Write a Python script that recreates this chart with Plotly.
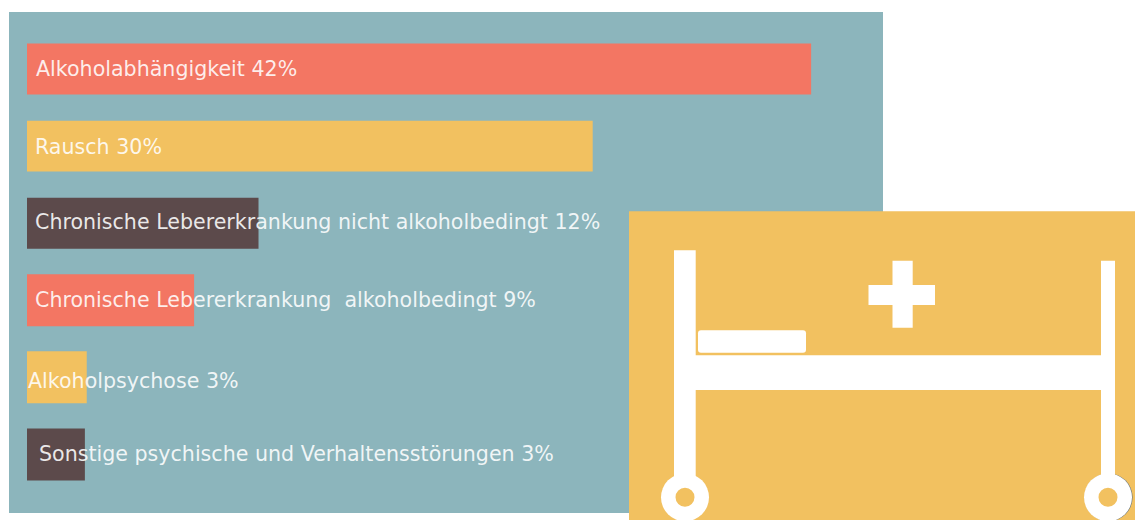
import plotly.graph_objects as go

categories = ["Alkoholabhängigkeit", "Rausch", "Chronische Lebererkrankung nicht alkoholbedingt",
              "Chronische Lebererkrankung  alkoholbedingt", "Alkoholpsychose",
              "Sonstige psychische und Verhaltensstörungen"]
bar_values = [42.0, 30.3, 12.4, 8.95, 3.2, 3.1]
value_labels = ["42%", "30%", "12%", "9%", "3%", "3%"]

bar_colors = ["#F37663", "#F2C160", "#5C4A4B", "#F37663", "#F2C160", "#5C4A4B"]
bar_thickness = [0.66, 0.66, 0.66, 0.675, 0.675, 0.675]
label_xshift = [7, 6, 6, 6, -1, 10]
label_yshift = [0, -1, 1, 0, -4, 0]

W, H = 1135, 520
PANEL = (9, 11.5, 883, 513)
PX_PER_UNIT = 18.67
BAR_X0 = 27
TEAL, ORANGE = "#8CB5BC", "#F2C160"


def px(x):
    return (x - PANEL[0]) / (PANEL[2] - PANEL[0])


def py(y):
    return 1 - (y - PANEL[1]) / (PANEL[3] - PANEL[1])


def rect(x0, y0, x1, y1, color="white"):
    return dict(type="rect", xref="paper", yref="paper", x0=px(x0), x1=px(x1), y0=py(y0), y1=py(y1),
                fillcolor=color, line_width=0, layer="above")


def circle(cx, cy, r, color):
    return dict(type="circle", xref="paper", yref="paper", x0=px(cx - r), x1=px(cx + r), y0=py(cy - r), y1=py(cy + r),
                fillcolor=color, line_width=0, layer="above")


def rounded(x0, y0, x1, y1, r, color="white"):
    a, b, c, d = px(x0), px(x1), py(y0), py(y1)
    rx, ry = px(x0 + r) - a, c - py(y0 + r)
    path = (f"M{a + rx},{c} L{b - rx},{c} Q{b},{c} {b},{c - ry} L{b},{d + ry} Q{b},{d} {b - rx},{d} "
            f"L{a + rx},{d} Q{a},{d} {a},{d + ry} L{a},{c - ry} Q{a},{c} {a + rx},{c} Z")
    return dict(type="path", xref="paper", yref="paper", path=path, fillcolor=color, line_width=0, layer="above")


shapes = [
    rect(629, 211, 1135, 520, ORANGE),
    circle(685, 497.3, 24, "white"),
    circle(685, 497.3, 9.5, ORANGE),
    circle(1108.6, 497.3, 24, "#5E6E78"),
    circle(1108, 497.3, 24, "white"),
    circle(1108, 497.3, 9.5, ORANGE),
    rect(674, 250, 695.7, 482),
    rect(1101, 260.5, 1115, 482),
    rect(695, 355, 1102, 390),
    rect(892.5, 260.5, 912.7, 327.5),
    rect(868.5, 284.7, 935, 304.7),
    rounded(698, 330, 806, 352.7, 3),
]

fig = go.Figure(go.Bar(y=categories, x=bar_values, orientation="h", width=bar_thickness,
                       marker=dict(color=bar_colors, line_width=0), hoverinfo="skip"))

annotations = [
    dict(x=0, y=c, xref="x", yref="y", xanchor="left", yanchor="middle", showarrow=False,
         xshift=xs, yshift=ys, text=f"{c} {v}", align="left",
         font=dict(family="DejaVu Sans", size=20.6, color="rgba(255,255,255,0.88)"))
    for c, v, xs, ys in zip(categories, value_labels, label_xshift, label_yshift)
]

fig.update_layout(
    width=W, height=H, autosize=False,
    margin=dict(l=PANEL[0], r=W - PANEL[2], t=PANEL[1], b=H - PANEL[3], pad=0),
    paper_bgcolor="white", plot_bgcolor=TEAL, showlegend=False,
    xaxis=dict(visible=False, range=[-(BAR_X0 - PANEL[0]) / PX_PER_UNIT, (PANEL[2] - BAR_X0) / PX_PER_UNIT]),
    yaxis=dict(visible=False, categoryorder="array", categoryarray=categories, range=[5.76, -0.74]),
    shapes=shapes, annotations=annotations,
)

fig.write_html("out.html", config={"displayModeBar": False},
               post_script="document.body.style.margin='0';document.documentElement.style.overflow='hidden';")
